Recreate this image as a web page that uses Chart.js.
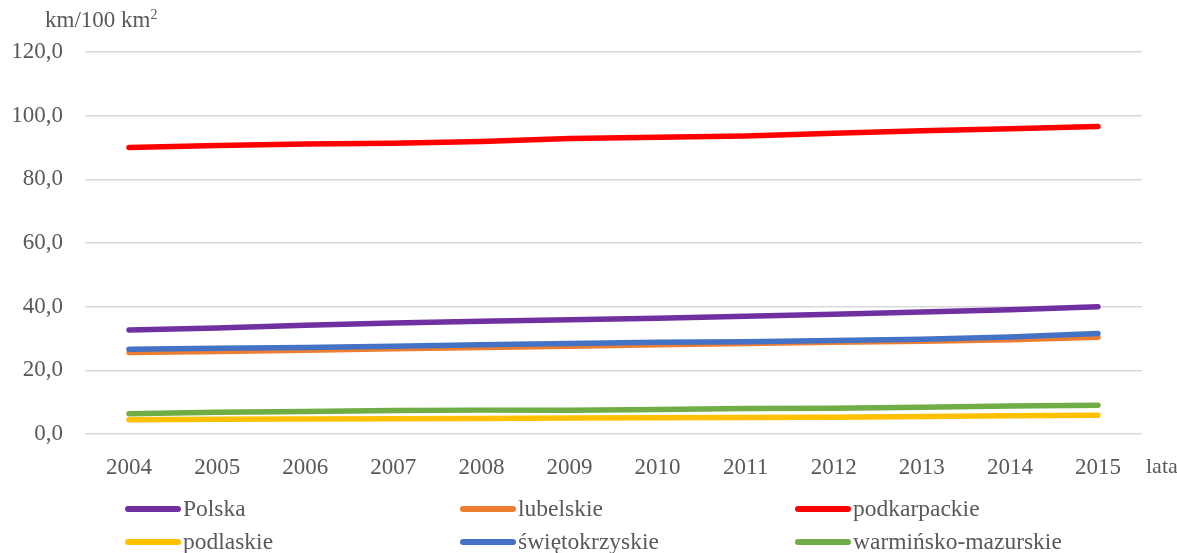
<!DOCTYPE html>
<html>
<head>
<meta charset="utf-8">
<script src="https://cdn.jsdelivr.net/npm/chart.js@4/dist/chart.umd.min.js"></script>
<style>
  html, body { margin: 0; padding: 0; background: #fff; }
  #wrap { position: relative; width: 1177px; height: 553px; font-family: "Liberation Serif", "Times New Roman", serif; color: #595959; }
  canvas { position: absolute; left: 0; top: 0; }
  .lab { position: absolute; font-size: 23px; white-space: nowrap; line-height: 1; }
  .leg { position: absolute; font-size: 23.5px; white-space: nowrap; line-height: 1; display: flex; align-items: center; }
  .sw { display: inline-block; width: 56px; height: 6px; border-radius: 3px; margin-right: 2px; }
</style>
</head>
<body>
<div id="wrap">
  <canvas id="c" width="1177" height="553"></canvas>
  <div class="lab" id="ytitle" style="left:45px; top:8px;">km/100 km<sup style="font-size:14px; vertical-align: 8px;">2</sup></div>
  <div class="lab" id="xtitle" style="left:1146px; top:455px; font-size:22px;">lata</div>
</div>
<script>
const years = ["2004","2005","2006","2007","2008","2009","2010","2011","2012","2013","2014","2015"];
const seriesNames = ["Polska","lubelskie","podkarpackie","podlaskie","świętokrzyskie","warmińsko-mazurskie"];
const seriesColors = ["#7030a0","#ed7d31","#ff0000","#ffc000","#4472c4","#70ad47"];
const polska = [32.7, 33.3, 34.2, 34.9, 35.4, 35.9, 36.4, 37.0, 37.6, 38.3, 39.0, 40.0];
const lubelskie = [25.6, 25.9, 26.3, 26.8, 27.2, 27.6, 28.0, 28.4, 28.8, 29.1, 29.6, 30.4];
const podkarpackie = [90.0, 90.6, 91.1, 91.3, 91.9, 92.8, 93.2, 93.6, 94.5, 95.3, 95.9, 96.6];
const podlaskie = [4.5, 4.6, 4.7, 4.8, 4.9, 5.0, 5.1, 5.2, 5.3, 5.5, 5.7, 5.9];
const swietokrzyskie = [26.6, 26.9, 27.2, 27.6, 28.0, 28.4, 28.8, 29.0, 29.4, 29.8, 30.5, 31.6];
const warminskoMazurskie = [6.4, 6.8, 7.1, 7.4, 7.5, 7.5, 7.7, 8.0, 8.1, 8.4, 8.8, 9.0];
const yTicks = [0, 20, 40, 60, 80, 100, 120];

const seriesValues = [polska, lubelskie, podkarpackie, podlaskie, swietokrzyskie, warminskoMazurskie];
const datasets = seriesNames.map((n, i) => ({
  label: n,
  data: seriesValues[i],
  borderColor: seriesColors[i],
  backgroundColor: seriesColors[i],
  borderWidth: 5.5,
  borderCapStyle: 'round',
  borderJoinStyle: 'round',
  pointRadius: 0,
  tension: 0,
  fill: false,
  order: seriesNames.length - i
}));

new Chart(document.getElementById('c'), {
  type: 'line',
  data: { labels: years, datasets },
  options: {
    responsive: false,
    animation: false,
    layout: { padding: { left: 0, right: 35, top: 52, bottom: 79 } },
    plugins: { legend: { display: false }, tooltip: { enabled: false } },
    scales: {
      x: {
        offset: true,
        grid: { display: false, drawTicks: false },
        border: { display: false },
        ticks: { color: '#595959', font: { family: 'Liberation Serif', size: 23 }, padding: 20, maxRotation: 0 },
        afterFit: s => { s.height = 40; }
      },
      y: {
        min: 0, max: 120,
        afterBuildTicks: s => { s.ticks = yTicks.map(v => ({ value: v })); },
        grid: { color: '#d9d9d9', lineWidth: 1.5, drawTicks: false },
        border: { display: false },
        ticks: {
          color: '#595959', font: { family: 'Liberation Serif', size: 23 }, padding: 22,
          callback: v => v.toFixed(1).replace('.', ',')
        },
        afterFit: s => { s.width = 85; }
      }
    }
  }
});

const wrap = document.getElementById('wrap');
const legX = [125, 460, 795];
const legY = [497, 530];
seriesNames.forEach((n, i) => {
  const d = document.createElement('div');
  d.className = 'leg';
  d.style.left = legX[i % 3] + 'px';
  d.style.top = legY[Math.floor(i / 3)] + 'px';
  const sw = document.createElement('span');
  sw.className = 'sw';
  sw.style.background = seriesColors[i];
  d.appendChild(sw);
  d.appendChild(document.createTextNode(n));
  wrap.appendChild(d);
});
</script>
</body>
</html>
